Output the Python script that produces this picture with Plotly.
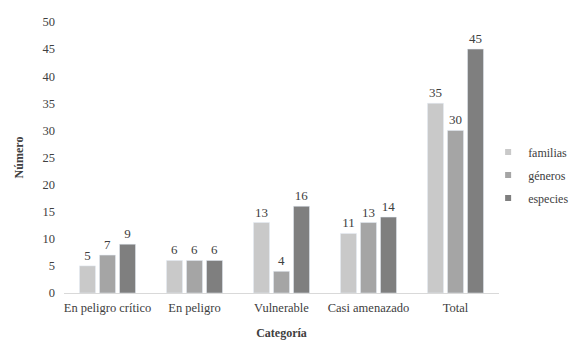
import plotly.graph_objects as go

categorias = ["En peligro crítico", "En peligro", "Vulnerable", "Casi amenazado", "Total"]
familias = [5, 6, 13, 11, 35]
generos = [7, 6, 4, 13, 30]
especies = [9, 6, 16, 14, 45]
y_ticks = [0, 5, 10, 15, 20, 25, 30, 35, 40, 45, 50]

series = [
    ("familias", familias, "#c9c9c9"),
    ("géneros", generos, "#a5a5a5"),
    ("especies", especies, "#7f7f7f"),
]

SERIF = "'Liberation Serif', 'Times New Roman', serif"
TXT = "#404040"

fig = go.Figure()
for name, vals, color in series:
    fig.add_trace(go.Bar(
        x=categorias, y=vals, name=name, marker_color=color,
        text=vals, textposition="outside",
        textfont=dict(family=SERIF, size=13, color=TXT),
        cliponaxis=False, showlegend=False,
    ))
# small square legend keys, one group each so the gap spaces them out
for name, vals, color in series:
    fig.add_trace(go.Scatter(
        x=[None], y=[None], mode="markers", name=name, legendgroup=name,
        marker=dict(symbol="square", size=6, color=color),
    ))

fig.update_layout(
    width=577, height=345,
    margin=dict(l=64, r=78, t=22, b=52, autoexpand=False),
    paper_bgcolor="white", plot_bgcolor="white",
    font=dict(family=SERIF, size=12, color=TXT),
    barmode="group", bargap=0.31, bargroupgap=0.2,
    legend=dict(x=0.975, y=0.435, xanchor="left", yanchor="middle",
                font=dict(family=SERIF, size=12, color=TXT),
                traceorder="grouped", tracegroupgap=4,
                itemwidth=30, bgcolor="rgba(0,0,0,0)"),
    xaxis=dict(
        title=dict(text="<b>Categoría</b>", font=dict(family=SERIF, size=12, color=TXT), standoff=14),
        showline=True, linecolor="#d9d9d9", linewidth=1,
        ticks="", showgrid=False, tickfont=dict(family=SERIF, size=12.5),
        ticklabelstandoff=3,
    ),
    yaxis=dict(
        title=dict(text="<b>Número</b>", font=dict(family=SERIF, size=12, color=TXT), standoff=16),
        range=[0, 50], tickvals=y_ticks, showgrid=False, zeroline=False,
        showline=False, ticks="", tickfont=dict(family=SERIF, size=12.5),
        ticklabelstandoff=8,
    ),
)

fig.write_html("out.html")
